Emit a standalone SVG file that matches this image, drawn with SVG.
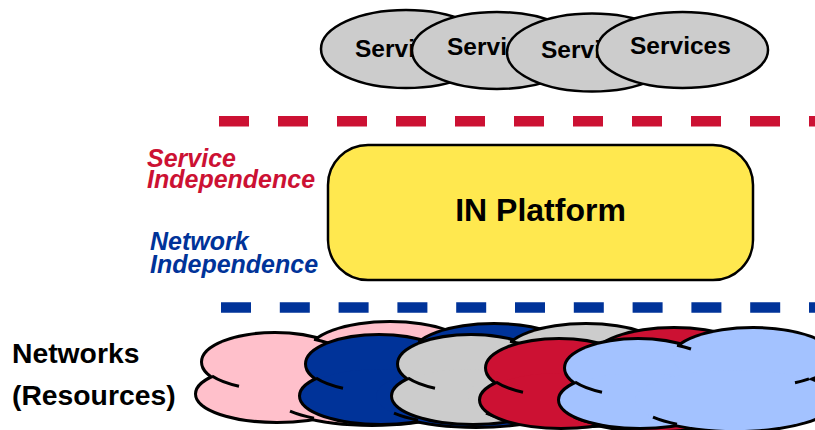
<svg xmlns="http://www.w3.org/2000/svg" width="815" height="430" viewBox="0 0 815 430">
<style>
  .svc ellipse { fill:#CCCCCC; stroke:#000; stroke-width:2.5; }
  .svc text { font-family:"Liberation Sans", Arial, sans-serif; font-weight:bold; font-size:24.5px; fill:#000; }
  .plat rect { fill:#FFE84F; stroke:#000; stroke-width:2.5; }
  .plat text { font-family:"Liberation Sans", Arial, sans-serif; font-weight:bold; font-size:32px; fill:#000; }
  .ind { font-family:"Liberation Sans", Arial, sans-serif; font-weight:bold; font-style:italic; font-size:25px; }
  .red { fill:#CC1133; }
  .blue { fill:#003399; }
  .net { font-family:"Liberation Sans", Arial, sans-serif; font-weight:bold; font-size:28.3px; fill:#000; }
  .sep { fill:none; stroke-width:10.5; }
</style>
<defs>
  <g id="cloud">
    <g stroke="#000" stroke-width="6">
      <ellipse cx="78" cy="38" rx="72" ry="28"/>
      <ellipse cx="80" cy="70" rx="80" ry="27"/>
      <ellipse cx="193" cy="28" rx="80" ry="29"/>
      <ellipse cx="175" cy="70" rx="100" ry="30"/>
    </g>
    <g stroke="none">
      <ellipse cx="78" cy="38" rx="72" ry="28"/>
      <ellipse cx="80" cy="70" rx="80" ry="27"/>
      <ellipse cx="193" cy="28" rx="80" ry="29"/>
      <ellipse cx="175" cy="70" rx="100" ry="30"/>
    </g>
    <path fill="none" stroke="#000" stroke-width="3" d="M15,52 A72,28 0 0,0 42,62.2 M117,15.2 A72,28 0 0,1 131,19 M249,48.8 A80,29 0 0,1 235,52.7 M117,94.3 A100,30 0 0,1 93,87.2"/>
  </g>
</defs>

<g id="separators">
  <line class="sep" x1="219" y1="121.3" x2="815" y2="121.3" stroke="#CC1133" stroke-dasharray="30 29"/>
  <line class="sep" x1="221" y1="307.5" x2="815" y2="307.5" stroke="#003399" stroke-dasharray="30 28.8"/>
</g>

<g id="service1" class="svc">
  <ellipse cx="406" cy="49" rx="85" ry="39"/>
  <text x="355" y="57">Services</text>
</g>
<g id="service2" class="svc">
  <ellipse cx="497" cy="50.5" rx="85" ry="38.5"/>
  <text x="447" y="55">Services</text>
</g>
<g id="service3" class="svc">
  <ellipse cx="592" cy="52.5" rx="85" ry="39"/>
  <text x="541" y="58">Services</text>
</g>
<g id="service4" class="svc">
  <ellipse cx="682.5" cy="50" rx="85.5" ry="38"/>
  <text x="630" y="54">Services</text>
</g>

<g id="service-independence">
  <text class="ind red" x="147" y="167">Service</text>
  <text class="ind red" x="147" y="188">Independence</text>
</g>
<g id="network-independence">
  <text class="ind blue" x="150" y="250">Network</text>
  <text class="ind blue" x="150" y="273">Independence</text>
</g>

<g id="in-platform" class="plat">
  <rect x="328" y="145" width="425" height="135" rx="40" ry="40"/>
  <text x="540.5" y="221" text-anchor="middle">IN Platform</text>
</g>

<g id="networks-label">
  <text class="net" x="12" y="363">Networks</text>
  <text class="net" x="12" y="405">(Resources)</text>
</g>

<g id="cloud-pink"><use href="#cloud" x="197" y="324" fill="#FFC0CB"/></g>
<g id="cloud-navy"><use href="#cloud" x="301" y="326" fill="#003399"/></g>
<g id="cloud-gray"><use href="#cloud" x="393" y="326" fill="#CCCCCC"/></g>
<g id="cloud-red"><use href="#cloud" x="481" y="330" fill="#CC1133"/></g>
<g id="cloud-lightblue"><use href="#cloud" x="560" y="330" fill="#A3C2FF"/></g>
</svg>
